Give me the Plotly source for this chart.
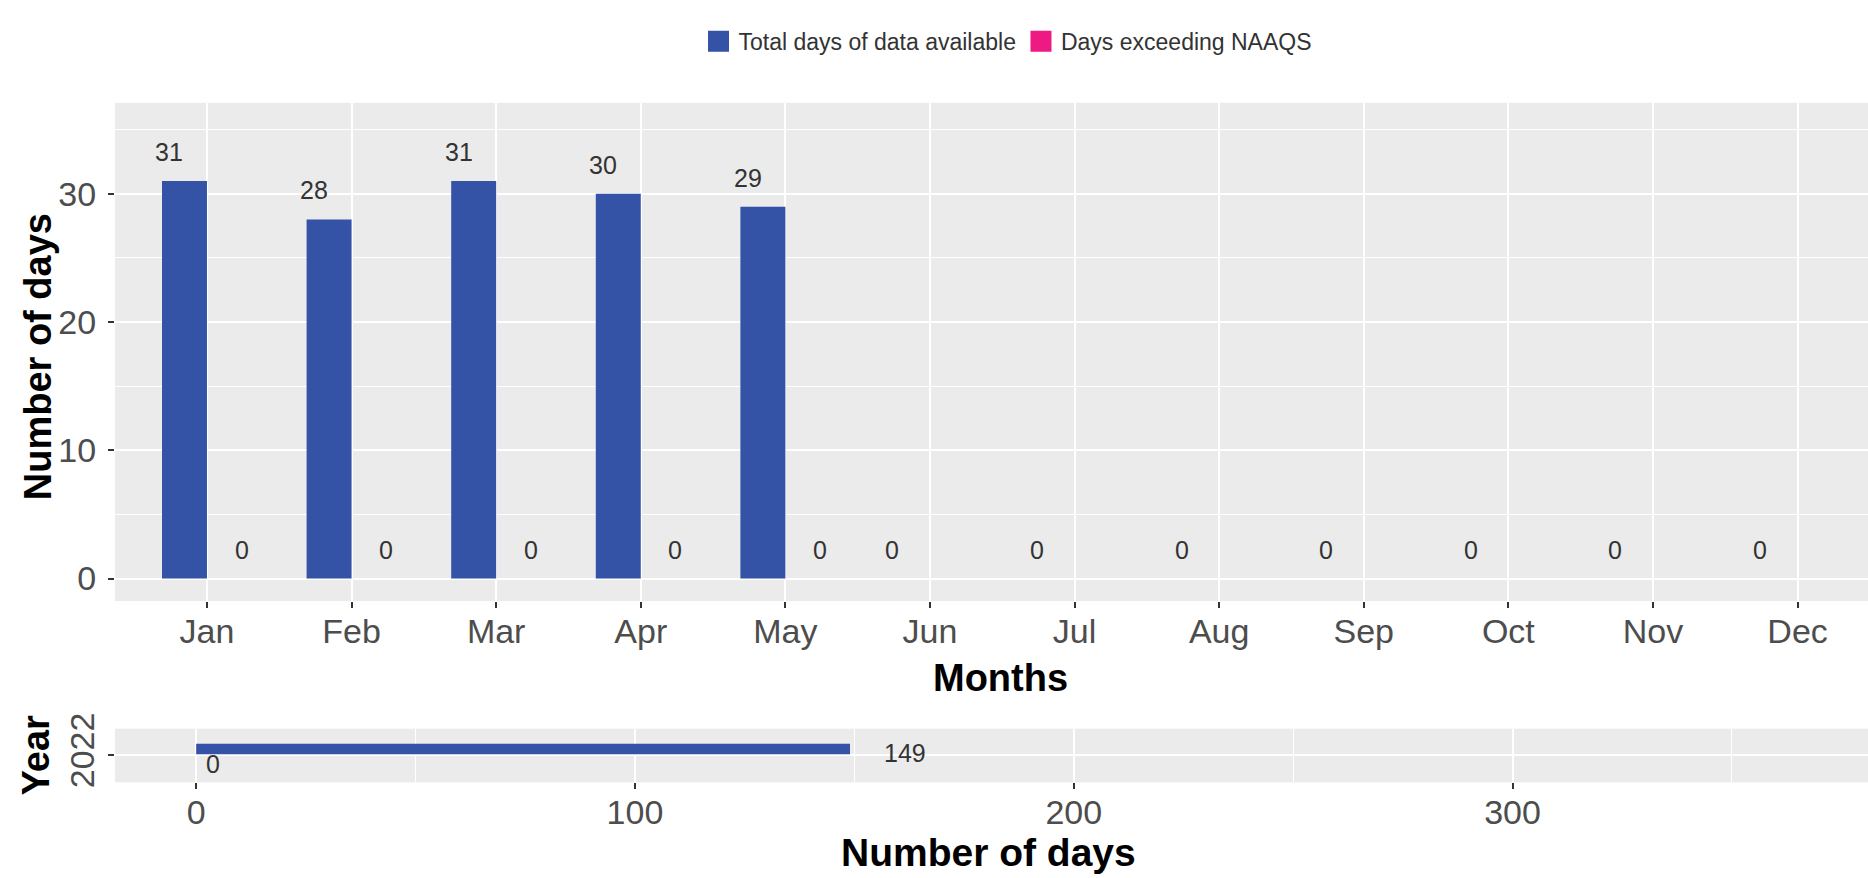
import plotly.graph_objects as go

# ---------------- data ----------------
months = ["Jan", "Feb", "Mar", "Apr", "May", "Jun",
          "Jul", "Aug", "Sep", "Oct", "Nov", "Dec"]
total_days = [31, 28, 31, 30, 29, 0, 0, 0, 0, 0, 0, 0]
exceed_days = [0, 0, 0, 0, 0, None, None, None, None, None, None, None]

year_labels = ["2022"]
year_total = [149]
year_exceed = [0]

month_y_ticks = [0, 10, 20, 30]
month_y_minor = [5, 15, 25, 35]
year_x_ticks = [0, 100, 200, 300]
year_x_minor = [50, 150, 250, 350]

series_names = ["Total days of data available", "Days exceeding NAAQS"]

# ---------------- style ----------------
BLUE = "#3452A6"
PINK = "#EE1A82"
PANEL = "#EBEBEB"
TICK_COL = "#4D4D4D"
FONT = "Liberation Sans, Arial, sans-serif"
W, H = 1868, 878

BAR_W = 0.311          # width of one dodged bar (category units)
LBL_TOTAL = -0.26      # label dodge offsets (category units)
LBL_EXC = 0.24

top_y0, top_y1 = 89, 600
bot_y0, bot_y1 = 731, 786

fig = go.Figure()

# top panel bars
fig.add_trace(go.Bar(
    x=months, y=total_days, name=series_names[0], showlegend=False,
    marker=dict(color=BLUE, line=dict(width=0)),
    offset=-BAR_W, width=BAR_W, xaxis="x", yaxis="y",
))
fig.add_trace(go.Bar(
    x=months, y=exceed_days, name=series_names[1], showlegend=False,
    marker=dict(color=PINK, line=dict(width=0)),
    offset=0, width=BAR_W, xaxis="x", yaxis="y",
))

# bottom panel bars (horizontal)
fig.add_trace(go.Bar(
    y=year_labels, x=year_total, orientation="h", name=series_names[0],
    marker=dict(color=BLUE, line=dict(width=0)),
    offset=0.03, width=0.23, xaxis="x2", yaxis="y2", showlegend=False,
))
fig.add_trace(go.Bar(
    y=year_labels, x=year_exceed, orientation="h", name=series_names[1],
    marker=dict(color=PINK, line=dict(width=0)),
    offset=-0.20, width=0.23, xaxis="x2", yaxis="y2", showlegend=False,
))

# legend entries (square keys like the ggplot legend)
for nm, col in zip(series_names, [BLUE, PINK]):
    fig.add_trace(go.Scatter(
        x=[None], y=[None], mode="markers", name=nm,
        marker=dict(symbol="square", size=16, color=col,
                    line=dict(color=col, width=5)),
        xaxis="x", yaxis="y", showlegend=True,
    ))

# ---------------- value labels ----------------
annotations = []
lbl_font = dict(family=FONT, size=25, color="#333333")
for i, v in enumerate(total_days):
    if v is None:
        continue
    annotations.append(dict(x=i + LBL_TOTAL, y=v, xref="x", yref="y",
                            text=str(v), showarrow=False, yshift=29,
                            xanchor="center", yanchor="middle", font=lbl_font))
for i, v in enumerate(exceed_days):
    if v is None:
        continue
    annotations.append(dict(x=i + LBL_EXC, y=v, xref="x", yref="y",
                            text=str(v), showarrow=False, yshift=29,
                            xanchor="center", yanchor="middle", font=lbl_font))
for j, v in enumerate(year_total):
    annotations.append(dict(x=v, y=j, xref="x2", yref="y2", text=str(v),
                            showarrow=False, xshift=55, yshift=2,
                            xanchor="center", yanchor="middle", font=lbl_font))
for j, v in enumerate(year_exceed):
    annotations.append(dict(x=v, y=j, xref="x2", yref="y2", text=str(v),
                            showarrow=False, xshift=17, yshift=-9,
                            xanchor="center", yanchor="middle", font=lbl_font))

# ---------------- axis titles ----------------
def tfont(size):
    return dict(family=FONT, size=size, color="black")

annotations += [
    dict(text="<b>Number of days</b>", x=38 / W, y=1 - 350 / H,
         xref="paper", yref="paper", textangle=-90, showarrow=False,
         xanchor="center", yanchor="middle", font=tfont(38)),
    dict(text="<b>Months</b>", x=1000 / W, y=1 - 679 / H,
         xref="paper", yref="paper", showarrow=False,
         xanchor="center", yanchor="middle", font=tfont(38)),
    dict(text="<b>Year</b>", x=36 / W, y=1 - (bot_y0 + bot_y1) / 2 / H,
         xref="paper", yref="paper", textangle=-90, showarrow=False,
         xanchor="center", yanchor="middle", font=tfont(38)),
    dict(text="<b>Number of days</b>", x=988 / W, y=1 - 858 / H,
         xref="paper", yref="paper", showarrow=False,
         xanchor="center", yanchor="middle", font=tfont(39)),
]

common_axis = dict(
    showgrid=True, gridcolor="white", gridwidth=2.2,
    zeroline=False, showline=False,
    ticks="outside", ticklen=6, tickwidth=1.5, tickcolor="#333333",
    tickfont=dict(family=FONT, size=34, color=TICK_COL),
)

fig.update_layout(
    width=W, height=H, autosize=False,
    margin=dict(l=0, r=0, t=0, b=0),
    paper_bgcolor="white", plot_bgcolor=PANEL,
    font=dict(family=FONT),
    barmode="overlay",
    xaxis=dict(domain=[115 / W, 1], anchor="y", type="category",
               categoryorder="array", categoryarray=months,
               range=[-0.636, 11.487], ticklabelstandoff=-6, **common_axis),
    yaxis=dict(domain=[1 - top_y1 / H, 1 - top_y0 / H], anchor="x",
               range=[-1.75, 37.1], tickvals=month_y_ticks,
               ticklabelstandoff=5,
               minor=dict(tickvals=month_y_minor, showgrid=True,
                          gridcolor="white", gridwidth=1, ticks=""),
               **common_axis),
    xaxis2=dict(domain=[115 / W, 1], anchor="y2", range=[-18.5, 381],
                tickvals=year_x_ticks, ticklabelstandoff=-6,
                minor=dict(tickvals=year_x_minor, showgrid=True,
                           gridcolor="white", gridwidth=1, ticks=""),
                **common_axis),
    yaxis2=dict(domain=[1 - bot_y1 / H, 1 - bot_y0 / H], anchor="x2",
                type="category", range=[-0.6, 0.6], tickangle=-90,
                **common_axis),
    legend=dict(orientation="h", x=1008 / W, y=1 - 26 / H,
                xanchor="center", yanchor="middle", itemsizing="trace",
                font=dict(family=FONT, size=23, color="#333333"),
                bgcolor="rgba(0,0,0,0)"),
    annotations=annotations,
    showlegend=True,
)

fig.write_html("out.html", config={"displayModeBar": False},
               post_script="document.body.style.margin='0';")
